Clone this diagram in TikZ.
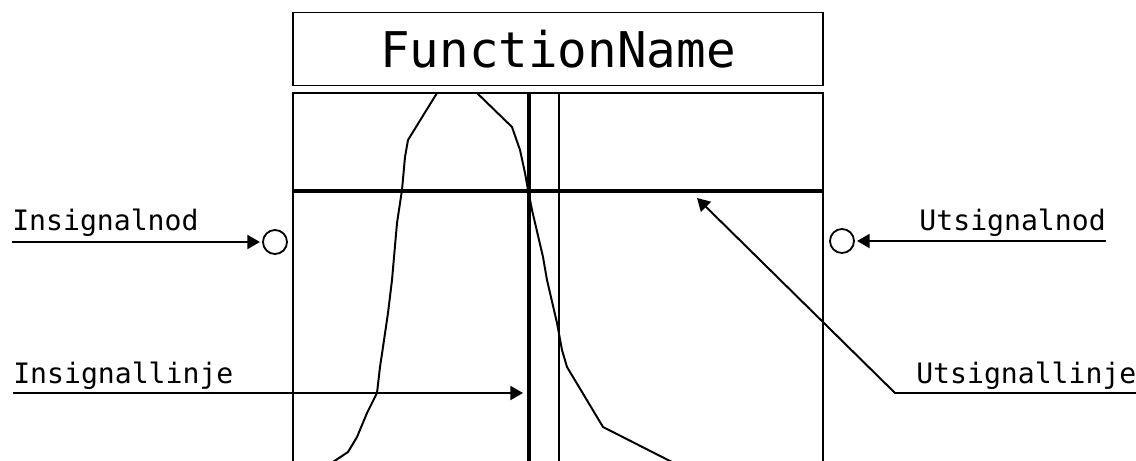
\documentclass[tikz,border=0pt]{standalone}
\usepackage{fontspec}
\setmonofont{DejaVu Sans Mono}
\usetikzlibrary{arrows.meta}

\begin{document}
\begin{tikzpicture}[x=0.025cm,y=-0.025cm,
  frame/.style={line width=1.4pt},
  sigline/.style={line width=3pt},
  trace/.style={line width=1.4pt, line join=round},
  lbl/.style={font=\ttfamily\fontsize{20}{24}\selectfont, inner sep=0pt},
  pin/.style={line width=1.4pt, -{Triangle[length=9pt,width=10pt]}},
  port/.style={circle, draw, line width=1.3pt, minimum size=0.6cm, inner sep=0pt}]
\useasboundingbox (0,0) rectangle (1136,460);

% function block
\node[draw, frame, minimum width=13.25cm, minimum height=1.825cm,
  font=\ttfamily\fontsize{35}{40}\selectfont] (fname) at (558,49) {FunctionName};
\draw[frame] (293,462) -- (293,93) -- (823,93) -- (823,462);
\draw[frame] (559,93) -- (559,462);

% signal curve
\begin{scope}
\clip (293,93) rectangle (823,460);
\draw[trace] (330,464) -- (348,452) -- (357,437) -- (367,413) -- (377,393)
  -- (380,367) -- (383,347) -- (388,313) -- (392,280) -- (397,223)
  -- (402,190) -- (405,157) -- (408,140) -- (437,93) -- (457,60)
  -- (477,93) -- (512,127) -- (520,150) -- (525,173) -- (528,190)
  -- (532,210) -- (543,257) -- (547,280) -- (557,323) -- (562,350)
  -- (567,367) -- (603,427) -- (668,460) -- (676,464);
\end{scope}

% in- and out-signal lines
\draw[sigline] (293,191) -- (823,191);
\draw[sigline] (529,93) -- (529,462);

% nodes
\node[port] (inport) at (275,242) {};
\node[port] (utport) at (842,241) {};

% labels
\node[lbl, anchor=base west] (innod) at (12,230) {Insignalnod};
\coordinate (innodend) at (12,242);
\draw[pin, shorten >=1.5pt] (innodend) -- (inport);

\node[lbl, anchor=base east] (utnod) at (1106,230) {Utsignalnod};
\coordinate (utnodend) at (1106,241);
\draw[pin, shorten >=1.5pt] (utnodend) -- (utport);

\node[lbl, anchor=base west] (inlin) at (13,383) {Insignallinje};
\coordinate (inlinend) at (13,393);
\coordinate (inlintip) at (523,393);
\draw[pin] (inlinend) -- (inlintip);

\node[lbl, anchor=base west] (utlin) at (916,383) {Utsignallinje};
\coordinate (utlinend) at (1136,393);
\coordinate (utknee) at (895,393);
\coordinate (utlintip) at (697,198);
\draw[pin] (utlinend) -- (utknee) -- (utlintip);
\end{tikzpicture}
\end{document}
